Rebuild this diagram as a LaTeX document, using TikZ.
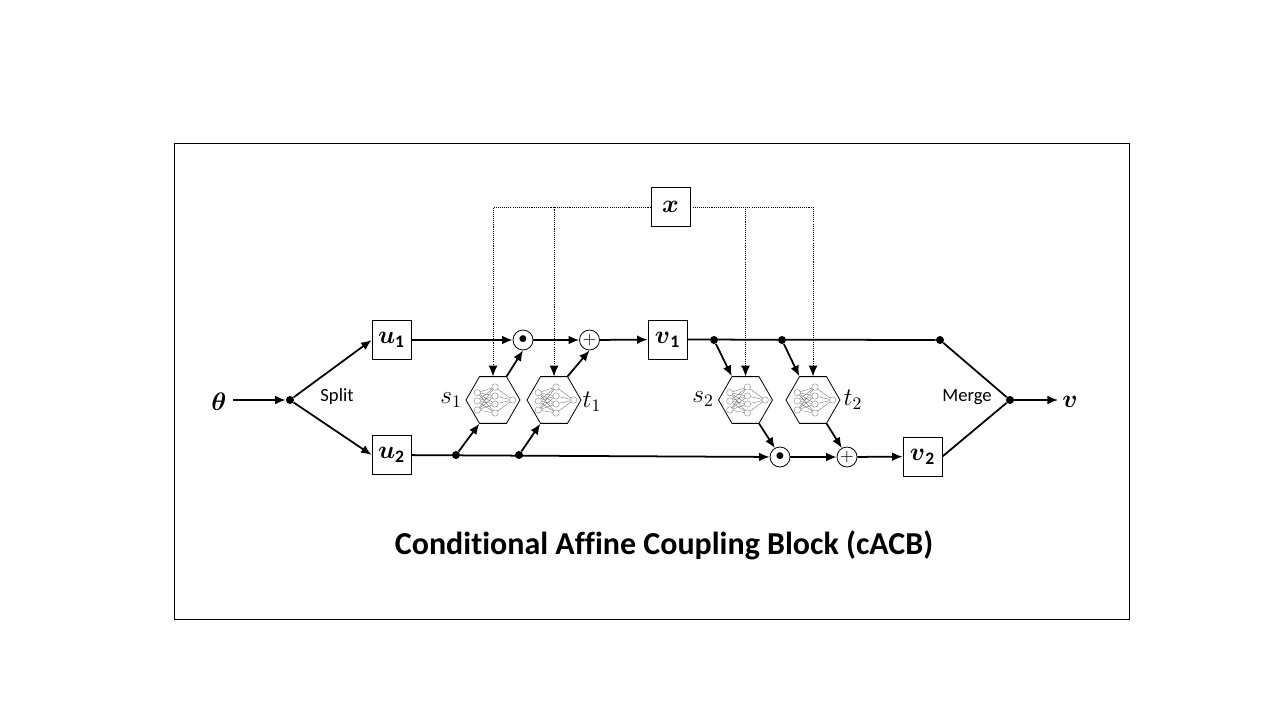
\documentclass[tikz,border=0pt]{standalone}
\usepackage{amsmath}
\usepackage{amssymb}
\usepackage{fontspec}
\setmainfont[Ligatures=CommonOff]{Carlito}
\usetikzlibrary{arrows.meta,shapes.geometric}
\tikzset{
	box/.style={draw, line width=0.45pt, minimum size=0.78cm, inner sep=0pt, font=\Large},
	hexa/.style={draw, line width=0.45pt, regular polygon, regular polygon sides=6, minimum size=1.08cm, inner sep=0pt},
	opnode/.style={draw, circle, line width=0.45pt, minimum size=0.4cm, inner sep=0pt},
	dot/.style={circle, fill=black, minimum size=0.16cm, inner sep=0pt},
	flow/.style={line width=1pt, -{Latex[length=6pt,width=5pt]}},
	plain/.style={line width=1pt},
	cond/.style={line width=0.4pt, dash pattern=on 0.6pt off 0.6pt, -{Latex[length=6pt,width=5pt]}},
	lbl/.style={inner sep=0pt},
	nnet/.pic={
		\foreach \a in {-7.3, 1, 10}
			\foreach \b in {-13, -4, 4, 13}
				\draw[black!70, line width=0.15pt] (-15.7, \a) -- (2, \b);
		\foreach \b in {-13, -4, 4, 13}
			\draw[black!70, line width=0.15pt] (2, \b) -- (19.7, 0);
		\foreach \a in {-7.3, 1, 10}
			\filldraw[fill=white, draw=black!40, line width=0.3pt] (-15.7, \a) circle (3.2);
		\foreach \b in {-13, -4, 4, 13}
			\filldraw[fill=white, draw=black!40, line width=0.3pt] (2, \b) circle (3.2);
		\filldraw[fill=white, draw=black!40, line width=0.3pt] (19.7, 0) circle (3.2);
	}
}
\begin{document}
\begin{tikzpicture}[x=0.02cm, y=-0.02cm]
	\useasboundingbox (0, 0) rectangle (1280, 720);
	\draw[line width=0.45pt] (174.5, 143.5) rectangle (1129.5, 619.5);
	% boxes
	\node[box] (u1) at (391.5, 340) {$\boldsymbol{u}_{\mathbf{1}}$};
	\node[box] (u2) at (391.5, 455) {$\boldsymbol{u}_{\mathbf{2}}$};
	\node[box] (v1) at (667.5, 339.5) {$\boldsymbol{v}_{\mathbf{1}}$};
	\node[box] (v2) at (922.5, 456.5) {$\boldsymbol{v}_{\mathbf{2}}$};
	\node[box] (x) at (670.5, 207) {$\boldsymbol{x}$};
	% networks
	\node[hexa] (s1) at (493, 400) {};
	\node[hexa] (t1) at (554, 400) {};
	\node[hexa] (s2) at (745.5, 400) {};
	\node[hexa] (t2) at (813, 400) {};
	\foreach \p in {s1, t1, s2, t2}
		\pic at (\p) {nnet};
	% operations
	\node[opnode] (dot1) at (523, 340) {$\bullet$};
	\node[opnode] (add1) at (589.5, 340) {$+$};
	\node[opnode] (dot2) at (780, 457) {$\bullet$};
	\node[opnode] (add2) at (847, 457) {$+$};
	% junctions
	\node[dot] (split) at (290, 400) {};
	\node[dot] (merge) at (1010, 400) {};
	\node[dot] (top) at (940, 340) {};
	\node[dot] (a1) at (456, 455) {};
	\node[dot] (a2) at (519, 455) {};
	\node[dot] (b1) at (714, 340) {};
	\node[dot] (b2) at (782, 340) {};
	\coordinate (thetaend) at (233, 400);
	\coordinate (vend) at (1058, 400);
	% labels
	\node[lbl, font=\Large] (theta) at (219, 402) {$\boldsymbol{\theta}$};
	\node[lbl, font=\Large] (v) at (1070, 402) {$\boldsymbol{v}$};
	\node[lbl, font=\fontsize{10.6}{12}\selectfont] (splitlbl) at (337, 397) {Split};
	\node[lbl, font=\fontsize{10.6}{12}\selectfont] (mergelbl) at (967, 397) {Merge};
	\node[lbl, font=\Large] (s1lbl) at (451, 400) {$s_1$};
	\node[lbl, font=\Large] (t1lbl) at (592, 402) {$t_1$};
	\node[lbl, font=\Large] (s2lbl) at (703, 399) {$s_2$};
	\node[lbl, font=\Large] (t2lbl) at (853, 400) {$t_2$};
	\node[lbl, font=\fontsize{18.2}{22}\selectfont\bfseries] (title) at (664, 545) {Conditional Affine Coupling Block (cACB)};
	% main lines
	\draw[flow] (thetaend) -- (split);
	\draw[flow] (split) -- (u1.west);
	\draw[flow] (split) -- (u2.west);
	\draw[flow] (u1) -- (dot1);
	\draw[flow] (dot1) -- (add1);
	\draw[flow] (add1) -- (v1);
	\draw[plain] (v1) -- (top);
	\draw[plain] (top) -- (merge);
	\draw[flow] (u2) -- (dot2);
	\draw[flow] (dot2) -- (add2);
	\draw[flow] (add2) -- (v2);
	\draw[plain] (v2.east) -- (merge);
	\draw[flow] (merge) -- (vend);
	% into and out of the networks
	\draw[flow] (a1) -- (s1.240);
	\draw[flow] (a2) -- (t1.240);
	\draw[flow] (b1) -- (s2.120);
	\draw[flow] (b2) -- (t2.120);
	\draw[flow] (s1.60) -- (dot1.south);
	\draw[flow] (t1.60) -- (add1.south);
	\draw[flow] (s2.300) -- (dot2.120);
	\draw[flow] (t2.300) -- (add2.120);
	% condition
	\draw[cond] (x.west) -| (s1.north);
	\draw[cond] (x.west) -| (t1.north);
	\draw[cond] (x.east) -| (s2.north);
	\draw[cond] (x.east) -| (t2.north);
\end{tikzpicture}
\end{document}
